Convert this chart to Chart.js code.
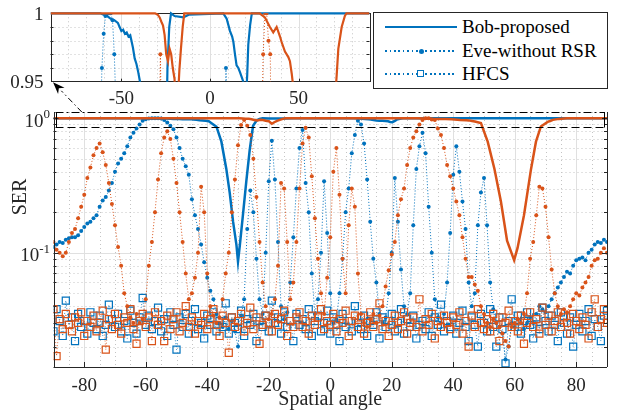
<!doctype html>
<html lang="en">

<head>
    <meta charset="utf-8" />
    <title>SER versus spatial angle</title>
    <script src="https://cdn.jsdelivr.net/npm/chart.js"></script>
    <style>
        body { margin: 0; background: #fff; }
        #wrap { position: relative; width: 619px; height: 416px; overflow: hidden; background: #fff; font-family: 'Liberation Serif', serif; }
        #wrap canvas { position: absolute; left: 0; top: 0; }
        #legend { position: absolute; left: 373px; top: 12px; width: 233px; height: 75px; border: 1px solid #262626; background: #fff; }
        .row { position: absolute; left: 0; width: 100%; height: 24px; }
        .sample { position: absolute; left: 11px; width: 72px; }
        .solid { top: 11px; height: 2px; background: #0072BD; }
        .dotted { top: 11px; height: 2px; background: repeating-linear-gradient(to right, #0072BD 0, #0072BD 1.5px, transparent 1.5px, transparent 4.5px); }
        .dot { position: absolute; left: 33.5px; top: -1.5px; width: 5px; height: 5px; border-radius: 50%; background: #0072BD; }
        .sq { position: absolute; left: 32px; top: -3px; width: 5px; height: 5px; border: 1.5px solid #0072BD; background: #fff; }
        .label { position: absolute; left: 88px; top: 0; font-size: 19px; line-height: 24px; color: #000; white-space: nowrap; }
    </style>
</head>

<body>
    <div id="wrap">
        <canvas id="mainChart" width="619" height="416"></canvas>
        <canvas id="insetChart" width="619" height="416"></canvas>
        <div id="legend">
            <div class="row" style="top:2px"><span class="sample solid"></span><span class="label">Bob-proposed</span></div>
            <div class="row" style="top:26px"><span class="sample dotted"><span class="dot"></span></span><span class="label">Eve-without RSR</span></div>
            <div class="row" style="top:49px"><span class="sample dotted"><span class="sq"></span></span><span class="label">HFCS</span></div>
        </div>
    </div>
    <script>
        const BLUE = '#0072BD';
        const ORANGE = '#D95319';
        const AXIS = '#262626';
        const MAJOR_GRID = '#e0e0e0';
        const MINOR_GRID = '#c4c4c4';
        const FONT = '"Liberation Serif", serif';

        // Eve and HFCS curves: one value per degree, from -90 to 90
        const angleStart = -90;

        const eveBlue = [
            0.11, 0.115, 0.12, 0.118, 0.125, 0.128, 0.13, 0.13, 0.135, 0.145,
            0.155, 0.165, 0.17, 0.18, 0.19, 0.22, 0.245, 0.26, 0.29, 0.33,
            0.4, 0.46, 0.5, 0.55, 0.62, 0.72, 0.78, 0.84, 0.9, 0.96,
            0.985, 0.998, 1, 1, 1, 0.995, 0.97, 0.93, 0.88, 0.83,
            0.72, 0.6, 0.5, 0.44, 0.38, 0.25, 0.19, 0.15, 0.115, 0.085,
            0.065, 0.052, 0.045, 0.035, 0.03, 0.028, 0.033, 0.027, 0.031, 0.026,
            0.02, 0.034, 0.045, 0.15, 0.29, 0.2, 0.09, 0.045, 0.035, 0.1,
            0.34, 0.68, 0.35, 0.12, 0.04, 0.032, 0.036, 0.06, 0.13, 0.3,
            0.6, 0.82, 0.33, 0.2, 0.07, 0.035, 0.045, 0.1, 0.34, 0.14,
            0.05, 0.03, 0.032, 0.05, 0.09, 0.2, 0.3, 0.55, 0.75, 0.96,
            0.9, 0.65, 0.35, 0.17, 0.09, 0.06, 0.035, 0.03, 0.033, 0.05,
            0.1, 0.36, 0.17, 0.075, 0.04, 0.035, 0.05, 0.16, 0.42, 0.62,
            0.78, 0.55, 0.22, 0.1, 0.045, 0.033, 0.03, 0.035, 0.06, 0.14,
            0.38, 0.62, 0.4, 0.24, 0.15, 0.06, 0.04, 0.05, 0.16, 0.28,
            0.36, 0.16, 0.06, 0.038, 0.03, 0.028, 0.025, 0.016, 0.02, 0.03,
            0.028, 0.032, 0.03, 0.027, 0.03, 0.033, 0.03, 0.035, 0.04, 0.038,
            0.036, 0.04, 0.045, 0.05, 0.055, 0.06, 0.066, 0.072, 0.07, 0.08,
            0.088, 0.09, 0.092, 0.088, 0.1, 0.105, 0.115, 0.12, 0.118, 0.125,
            0.12
        ];

        const eveOrange = [
            0.12, 0.105, 0.1, 0.094, 0.1, 0.12, 0.14, 0.15, 0.18, 0.22,
            0.27, 0.36, 0.43, 0.53, 0.6, 0.65, 0.56, 0.45, 0.33, 0.23,
            0.16, 0.11, 0.08, 0.05, 0.04, 0.033, 0.03, 0.035, 0.03, 0.032,
            0.045, 0.08, 0.12, 0.2, 0.35, 0.55, 0.72, 0.8, 0.7, 0.5,
            0.33, 0.2, 0.12, 0.07, 0.045, 0.05, 0.065, 0.1, 0.31, 0.2,
            0.07, 0.04, 0.034, 0.03, 0.033, 0.045, 0.07, 0.1, 0.2, 0.35,
            0.63, 0.89, 0.97, 0.88, 0.75, 0.5, 0.26, 0.12, 0.06, 0.04,
            0.032, 0.035, 0.045, 0.08, 0.33, 0.3, 0.12, 0.045, 0.06, 0.12,
            0.3, 0.65, 0.85, 0.72, 0.37, 0.18, 0.09, 0.05, 0.035, 0.065,
            0.13, 0.4, 0.6, 0.27, 0.09, 0.05, 0.16, 0.3, 0.22, 0.07,
            0.035, 0.03, 0.028, 0.032, 0.035, 0.03, 0.034, 0.04, 0.056, 0.074,
            0.097, 0.12, 0.19, 0.25, 0.3, 0.45, 0.6, 0.72, 0.8, 0.9,
            0.97, 1, 1, 0.98, 0.97, 0.84, 0.75, 0.6, 0.45, 0.37,
            0.3, 0.24, 0.19, 0.13, 0.09, 0.066, 0.066, 0.058, 0.052, 0.04,
            0.035, 0.03, 0.028, 0.032, 0.03, 0.028, 0.025, 0.022, 0.02, 0.028,
            0.03, 0.032, 0.03, 0.035, 0.05, 0.09, 0.12, 0.19, 0.31, 0.3,
            0.22, 0.13, 0.075, 0.05, 0.04, 0.035, 0.038, 0.036, 0.04, 0.045,
            0.05, 0.048, 0.055, 0.06, 0.066, 0.08, 0.088, 0.09, 0.1, 0.108,
            0.1
        ];

        const hfcsBlue = [
            0.026, 0.038, 0.031, 0.024, 0.044, 0.029, 0.033, 0.022, 0.035, 0.028,
            0.031, 0.025, 0.036, 0.03, 0.027, 0.034, 0.024, 0.029, 0.041, 0.032,
            0.028, 0.035, 0.026, 0.031, 0.023, 0.037, 0.03, 0.025, 0.033, 0.046,
            0.029, 0.034, 0.027, 0.031, 0.039, 0.026, 0.032, 0.024, 0.036, 0.029,
            0.019, 0.033, 0.028, 0.035, 0.025, 0.031, 0.038, 0.027, 0.03, 0.023,
            0.034, 0.029, 0.036, 0.026, 0.031, 0.028, 0.042, 0.025, 0.033, 0.03,
            0.027, 0.037, 0.024, 0.032, 0.029, 0.035, 0.022, 0.031, 0.028, 0.034,
            0.026, 0.044, 0.03, 0.033, 0.025, 0.036, 0.028, 0.031, 0.022, 0.035,
            0.029, 0.032, 0.027, 0.038, 0.024, 0.031, 0.034, 0.026, 0.03, 0.037,
            0.025, 0.033, 0.029, 0.022, 0.035, 0.028, 0.031, 0.026, 0.04, 0.03,
            0.027, 0.034, 0.024, 0.031, 0.029, 0.036, 0.023, 0.033, 0.028, 0.031,
            0.035, 0.026, 0.03, 0.038, 0.025, 0.032, 0.028, 0.034, 0.023, 0.029,
            0.031, 0.027, 0.036, 0.024, 0.033, 0.029, 0.041, 0.026, 0.031, 0.028,
            0.034, 0.025, 0.03, 0.037, 0.028, 0.022, 0.033, 0.029, 0.02, 0.035,
            0.03, 0.026, 0.038, 0.028, 0.02, 0.033, 0.027, 0.015, 0.031, 0.045,
            0.028, 0.034, 0.025, 0.031, 0.036, 0.029, 0.023, 0.033, 0.027, 0.039,
            0.031, 0.026, 0.034, 0.029, 0.022, 0.036, 0.03, 0.025, 0.033, 0.02,
            0.029, 0.035, 0.026, 0.031, 0.038, 0.024, 0.032, 0.028, 0.022, 0.034,
            0.037
        ];

        const hfcsOrange = [
            0.038, 0.017, 0.032, 0.027, 0.035, 0.029, 0.026, 0.033, 0.03, 0.036,
            0.024, 0.031, 0.028, 0.034, 0.026, 0.03, 0.037, 0.019, 0.032, 0.027,
            0.035, 0.029, 0.025, 0.033, 0.03, 0.038, 0.027, 0.021, 0.031, 0.035,
            0.028, 0.033, 0.022, 0.036, 0.029, 0.031, 0.022, 0.034, 0.027, 0.032,
            0.036, 0.026, 0.03, 0.04, 0.028, 0.033, 0.025, 0.031, 0.029, 0.035,
            0.027, 0.032, 0.038, 0.029, 0.024, 0.034, 0.03, 0.018, 0.033, 0.028,
            0.031, 0.035, 0.026, 0.03, 0.039, 0.027, 0.033, 0.021, 0.029, 0.034,
            0.03, 0.026, 0.035, 0.029, 0.032, 0.037, 0.024, 0.031, 0.028, 0.033,
            0.036, 0.028, 0.031, 0.025, 0.034, 0.029, 0.033, 0.038, 0.027, 0.031,
            0.029, 0.035, 0.026, 0.032, 0.03, 0.037, 0.024, 0.031, 0.034, 0.028,
            0.033, 0.025, 0.03, 0.036, 0.028, 0.032, 0.042, 0.027, 0.031, 0.024,
            0.029, 0.034, 0.027, 0.031, 0.036, 0.025, 0.03, 0.033, 0.028, 0.045,
            0.026, 0.032, 0.029, 0.035, 0.023, 0.031, 0.028, 0.034, 0.03, 0.027,
            0.033, 0.029, 0.036, 0.025, 0.031, 0.02, 0.034, 0.028, 0.038, 0.03,
            0.027, 0.032, 0.026, 0.035, 0.029, 0.022, 0.033, 0.03, 0.037, 0.028,
            0.031, 0.026, 0.034, 0.021, 0.03, 0.036, 0.028, 0.032, 0.025, 0.039,
            0.029, 0.034, 0.026, 0.031, 0.036, 0.028, 0.033, 0.03, 0.025, 0.035,
            0.031, 0.027, 0.033, 0.029, 0.023, 0.036, 0.045, 0.028, 0.032, 0.038,
            0.03
        ];

        // Bob-proposed curves, angle / SER pairs
        const bobBlueAngle = [
            -90, -62, -60, -58, -56, -54, -52, -51, -50, -49, -48, -47, -46, -45, -44.5,
            -43.5, -42.5, -41.5, -40.5, -39.5, -38.6, -37, -35.4, -33.8, -32.7, -31.6,
            -30.5, -30, -29.4, -28.4, -27.3, -26.2, -25.1, -24, -23, -22, -20, -15, -12,
            7.5, 9.4, 11.3, 12.5, 13.2, 14.1, 15, 16, 16.9, 18, 18.8, 19.5, 20.2, 21,
            21.6, 22.6, 23.6, 90
        ];
        const bobBlueSer = [
            1, 1, 0.999, 0.998, 0.996, 0.995, 0.993, 0.99, 0.987, 0.988, 0.985, 0.986, 0.983, 0.984, 0.981,
            0.975, 0.967, 0.963, 0.957, 0.95, 0.92, 0.866, 0.67, 0.42, 0.28, 0.17,
            0.114, 0.086, 0.114, 0.19, 0.34, 0.58, 0.88, 0.96, 0.99, 1, 0.998, 0.997, 0.999,
            1, 0.996, 0.987, 0.983, 0.979, 0.97, 0.962, 0.96, 0.957, 0.953, 0.95, 0.94, 0.935, 0.955,
            0.977, 0.991, 1, 1
        ];
        const bobOrangeAngle = [
            -90, -31, -29.5, -28.4, -27.5, -26.5, -25.6, -24.7, -23.7, -22.8, -21.9, -21,
            -20, -19, -18.2, -17.3, -16.4, -15.4, -14.5, 28, 31, 33.8, 35.7, 37.6, 39.5,
            40.4, 42.3, 44.2, 45.1, 46.1, 47, 49, 51.2, 53.4, 55.5, 57.5, 59.8, 60.9, 63,
            65.3, 66.9, 68.5, 70.7, 71.5, 72.4, 74.3, 76.1, 77, 90
        ];
        const bobOrangeSer = [
            1, 1, 0.999, 0.997, 0.994, 0.991, 0.984, 0.97, 0.965, 0.974, 0.97, 0.96,
            0.952, 0.91, 0.935, 0.958, 0.974, 0.99, 1, 1, 0.997, 0.99, 0.986, 0.99, 0.983,
            0.979, 0.972, 0.968, 0.965, 0.956, 0.946, 0.92, 0.67, 0.42, 0.24, 0.123, 0.088, 0.108, 0.19,
            0.42, 0.67, 0.87, 0.94, 0.955, 0.974, 0.99, 0.998, 1, 1
        ];

        const mainXTicks = [-80, -60, -40, -20, 0, 20, 40, 60, 80];
        const mainYMajor = [0.1, 1];
        const mainYLabels = [[1, '0'], [0.1, '-1']];
        const mainYMinor = [0.02, 0.03, 0.04, 0.05, 0.06, 0.07, 0.08, 0.09, 0.2, 0.3, 0.4, 0.5, 0.6, 0.7, 0.8, 0.9];
        const insetXTicks = [-50, 0, 50];
        const insetYTicks = [0.95, 1];
        const insetYMinor = [0.96, 0.97, 0.98, 0.99];

        function sampled(values) {
            return values.map((v, i) => ({ x: angleStart + i, y: v }));
        }

        function paired(xs, ys) {
            return xs.map((x, i) => ({ x: x, y: ys[i] }));
        }

        function bobSet(color, xs, ys, width, clip) {
            return {
                data: paired(xs, ys), borderColor: color, borderWidth: width,
                pointRadius: 0, tension: 0, fill: false, clip: clip
            };
        }

        function eveSet(color, values) {
            return {
                data: sampled(values), borderColor: color, borderWidth: 1, borderDash: [1, 2],
                pointRadius: 2, pointBorderWidth: 0, pointBackgroundColor: color, fill: false
            };
        }

        function hfcsSet(color, values) {
            return {
                data: sampled(values), borderColor: color, borderWidth: 0.8, borderDash: [1, 2],
                pointStyle: 'rect', pointRadius: 5, pointBorderWidth: 1.2,
                pointBorderColor: color, pointBackgroundColor: 'rgba(0,0,0,0)', fill: false
            };
        }

        function vline(ctx, px, y0, y1) {
            px = Math.round(px) + 0.5;
            ctx.beginPath();
            ctx.moveTo(px, y0);
            ctx.lineTo(px, y1);
            ctx.stroke();
        }

        function hline(ctx, py, x0, x1) {
            py = Math.round(py) + 0.5;
            ctx.beginPath();
            ctx.moveTo(x0, py);
            ctx.lineTo(x1, py);
            ctx.stroke();
        }

        function label(ctx, str, x, y, size, align) {
            ctx.font = size + 'px ' + FONT;
            ctx.textAlign = align;
            ctx.textBaseline = 'alphabetic';
            ctx.fillStyle = AXIS;
            ctx.fillText(str, x, y);
        }

        // scale options shared by both charts: no built-in grid or text, sizes fixed
        function bareScale(extra, size) {
            return Object.assign({
                grid: { display: false, drawTicks: false },
                border: { display: false },
                ticks: { display: false }
            }, extra, size);
        }

        const insetDecor = {
            id: 'insetDecor',
            beforeDatasetsDraw(chart) {
                const { ctx, chartArea: a, scales: { x, y } } = chart;
                ctx.save();
                ctx.lineWidth = 1;
                ctx.strokeStyle = MINOR_GRID;
                ctx.setLineDash([1, 3]);
                for (let v = -80; v <= 80; v += 10) {
                    if (v % 50 !== 0) vline(ctx, x.getPixelForValue(v), a.top, a.bottom);
                }
                for (const v of insetYMinor) hline(ctx, y.getPixelForValue(v), a.left, a.right);
                ctx.setLineDash([]);
                ctx.strokeStyle = MAJOR_GRID;
                for (const v of insetXTicks) vline(ctx, x.getPixelForValue(v), a.top, a.bottom);

                ctx.strokeStyle = AXIS;
                ctx.strokeRect(Math.round(a.left) + 0.5, Math.round(a.top) + 0.5,
                    Math.round(a.right - a.left), Math.round(a.bottom - a.top));
                for (const v of insetXTicks) vline(ctx, x.getPixelForValue(v), a.bottom - 3, a.bottom);
                for (const v of insetYMinor) {
                    hline(ctx, y.getPixelForValue(v), a.left, a.left + 3);
                    hline(ctx, y.getPixelForValue(v), a.right - 3, a.right);
                }
                for (const v of insetXTicks) label(ctx, String(v), x.getPixelForValue(v), a.bottom + 22.5, 19, 'center');
                for (const v of insetYTicks) label(ctx, String(v), a.left - 7, y.getPixelForValue(v) + 6.5, 19, 'right');
                ctx.restore();
            }
        };

        const insetChart = new Chart(document.getElementById('insetChart'), {
            type: 'line',
            data: {
                datasets: [
                    eveSet(ORANGE, eveOrange),
                    bobSet(ORANGE, bobOrangeAngle, bobOrangeSer, 2.2, { left: 0, top: 2, right: 0, bottom: 0 }),
                    eveSet(BLUE, eveBlue),
                    bobSet(BLUE, bobBlueAngle, bobBlueSer, 2.2, { left: 0, top: 2, right: 0, bottom: 0 })
                ]
            },
            options: {
                responsive: false,
                animation: false,
                events: [],
                layout: { padding: { left: 0, right: 249.5, top: 13.3, bottom: 0 } },
                plugins: { legend: { display: false }, tooltip: { enabled: false } },
                scales: {
                    x: bareScale({ type: 'linear', min: -90, max: 90 }, { afterFit: (s) => { s.height = 334.3; } }),
                    y: bareScale({ type: 'linear', min: 0.95, max: 1 }, { afterFit: (s) => { s.width = 50.5; } })
                }
            },
            plugins: [insetDecor]
        });

        const mainDecor = {
            id: 'mainDecor',
            beforeDatasetsDraw(chart) {
                const { ctx, chartArea: a, scales: { x, y } } = chart;
                ctx.save();
                ctx.lineWidth = 1;
                ctx.strokeStyle = MINOR_GRID;
                ctx.setLineDash([1, 3]);
                for (let v = -85; v <= 85; v += 5) {
                    if (v % 20 !== 0) vline(ctx, x.getPixelForValue(v), a.top, a.bottom);
                }
                for (const v of mainYMinor) hline(ctx, y.getPixelForValue(v), a.left, a.right);
                ctx.setLineDash([]);
                ctx.strokeStyle = MAJOR_GRID;
                for (const v of mainXTicks) vline(ctx, x.getPixelForValue(v), a.top, a.bottom);
                for (const v of mainYMajor) hline(ctx, y.getPixelForValue(v), a.left, a.right);
                ctx.restore();
            },
            afterDatasetsDraw(chart) {
                const { ctx, chartArea: a, scales: { x, y } } = chart;
                ctx.save();
                ctx.lineWidth = 1;
                ctx.strokeStyle = AXIS;
                vline(ctx, a.left, a.top, a.bottom);
                vline(ctx, a.right, a.top, a.bottom);
                hline(ctx, a.bottom, a.left, a.right);
                for (const v of mainXTicks) vline(ctx, x.getPixelForValue(v), a.bottom - 5, a.bottom);
                for (const v of mainYMajor) {
                    hline(ctx, y.getPixelForValue(v), a.left, a.left + 5);
                    hline(ctx, y.getPixelForValue(v), a.right - 5, a.right);
                }
                for (const v of mainYMinor) {
                    hline(ctx, y.getPixelForValue(v), a.left, a.left + 3);
                    hline(ctx, y.getPixelForValue(v), a.right - 3, a.right);
                }

                // tick labels and axis titles
                for (const v of mainXTicks) label(ctx, String(v), x.getPixelForValue(v), a.bottom + 24, 19, 'center');
                label(ctx, 'Spatial angle', (a.left + a.right) / 2, a.bottom + 38, 20, 'center');
                for (const [v, expo] of mainYLabels) {
                    const py = y.getPixelForValue(v);
                    ctx.font = '13px ' + FONT;
                    const w = ctx.measureText(expo).width;
                    label(ctx, expo, a.left - 3.5, py, 13, 'right');
                    label(ctx, '10', a.left - 3.5 - w, py + 8.3, 19, 'right');
                }
                ctx.save();
                ctx.translate(26, 197);
                ctx.rotate(-Math.PI / 2);
                label(ctx, 'SER', 0, 0, 20, 'center');
                ctx.restore();

                // zoom window marker and arrow towards the inset
                const boxBottom = Math.round(y.getPixelForValue(0.866)) + 0.5;
                const boxTop = Math.round(a.top) + 0.5;
                ctx.strokeStyle = '#000';
                ctx.setLineDash([8, 3, 2, 3]);
                ctx.beginPath();
                ctx.moveTo(a.left + 2, boxTop);
                ctx.lineTo(a.right - 2, boxTop);
                ctx.stroke();
                ctx.setLineDash([8, 4]);
                ctx.beginPath();
                ctx.moveTo(a.left + 2, boxBottom);
                ctx.lineTo(a.right - 2, boxBottom);
                ctx.stroke();
                ctx.setLineDash([]);
                vline(ctx, a.left + 2, boxTop, boxBottom);
                vline(ctx, a.right - 3, boxTop, boxBottom);

                const ia = insetChart.chartArea;
                const tail = { x: x.getPixelForValue(-80.8), y: a.top };
                const tip = { x: ia.left + 2.5, y: ia.bottom + 0.5 };
                const ang = Math.atan2(tip.y - tail.y, tip.x - tail.x);
                const head = 12, half = 4.5;
                const bx = tip.x - head * Math.cos(ang), by = tip.y - head * Math.sin(ang);
                ctx.setLineDash([6, 3, 1.5, 3]);
                ctx.beginPath();
                ctx.moveTo(tail.x, tail.y);
                ctx.lineTo(bx, by);
                ctx.stroke();
                ctx.setLineDash([]);
                ctx.fillStyle = '#000';
                ctx.beginPath();
                ctx.moveTo(tip.x, tip.y);
                ctx.lineTo(bx + half * Math.sin(ang), by - half * Math.cos(ang));
                ctx.lineTo(bx + 0.3 * head * Math.cos(ang), by + 0.3 * head * Math.sin(ang));
                ctx.lineTo(bx - half * Math.sin(ang), by + half * Math.cos(ang));
                ctx.closePath();
                ctx.fill();
                ctx.restore();
            }
        };

        new Chart(document.getElementById('mainChart'), {
            type: 'line',
            data: {
                datasets: [
                    hfcsSet(ORANGE, hfcsOrange),
                    eveSet(ORANGE, eveOrange),
                    bobSet(ORANGE, bobOrangeAngle, bobOrangeSer, 2.5),
                    hfcsSet(BLUE, hfcsBlue),
                    eveSet(BLUE, eveBlue),
                    bobSet(BLUE, bobBlueAngle, bobBlueSer, 2.5)
                ]
            },
            options: {
                responsive: false,
                animation: false,
                events: [],
                layout: { padding: { left: 0, right: 12, top: 112, bottom: 0 } },
                plugins: { legend: { display: false }, tooltip: { enabled: false } },
                scales: {
                    x: bareScale({ type: 'linear', min: -90, max: 90 }, { afterFit: (s) => { s.height = 49; } }),
                    y: bareScale({ type: 'logarithmic', min: 0.0141, max: 1.114 }, { afterFit: (s) => { s.width = 53.5; } })
                }
            },
            plugins: [mainDecor]
        });
    </script>
</body>

</html>
